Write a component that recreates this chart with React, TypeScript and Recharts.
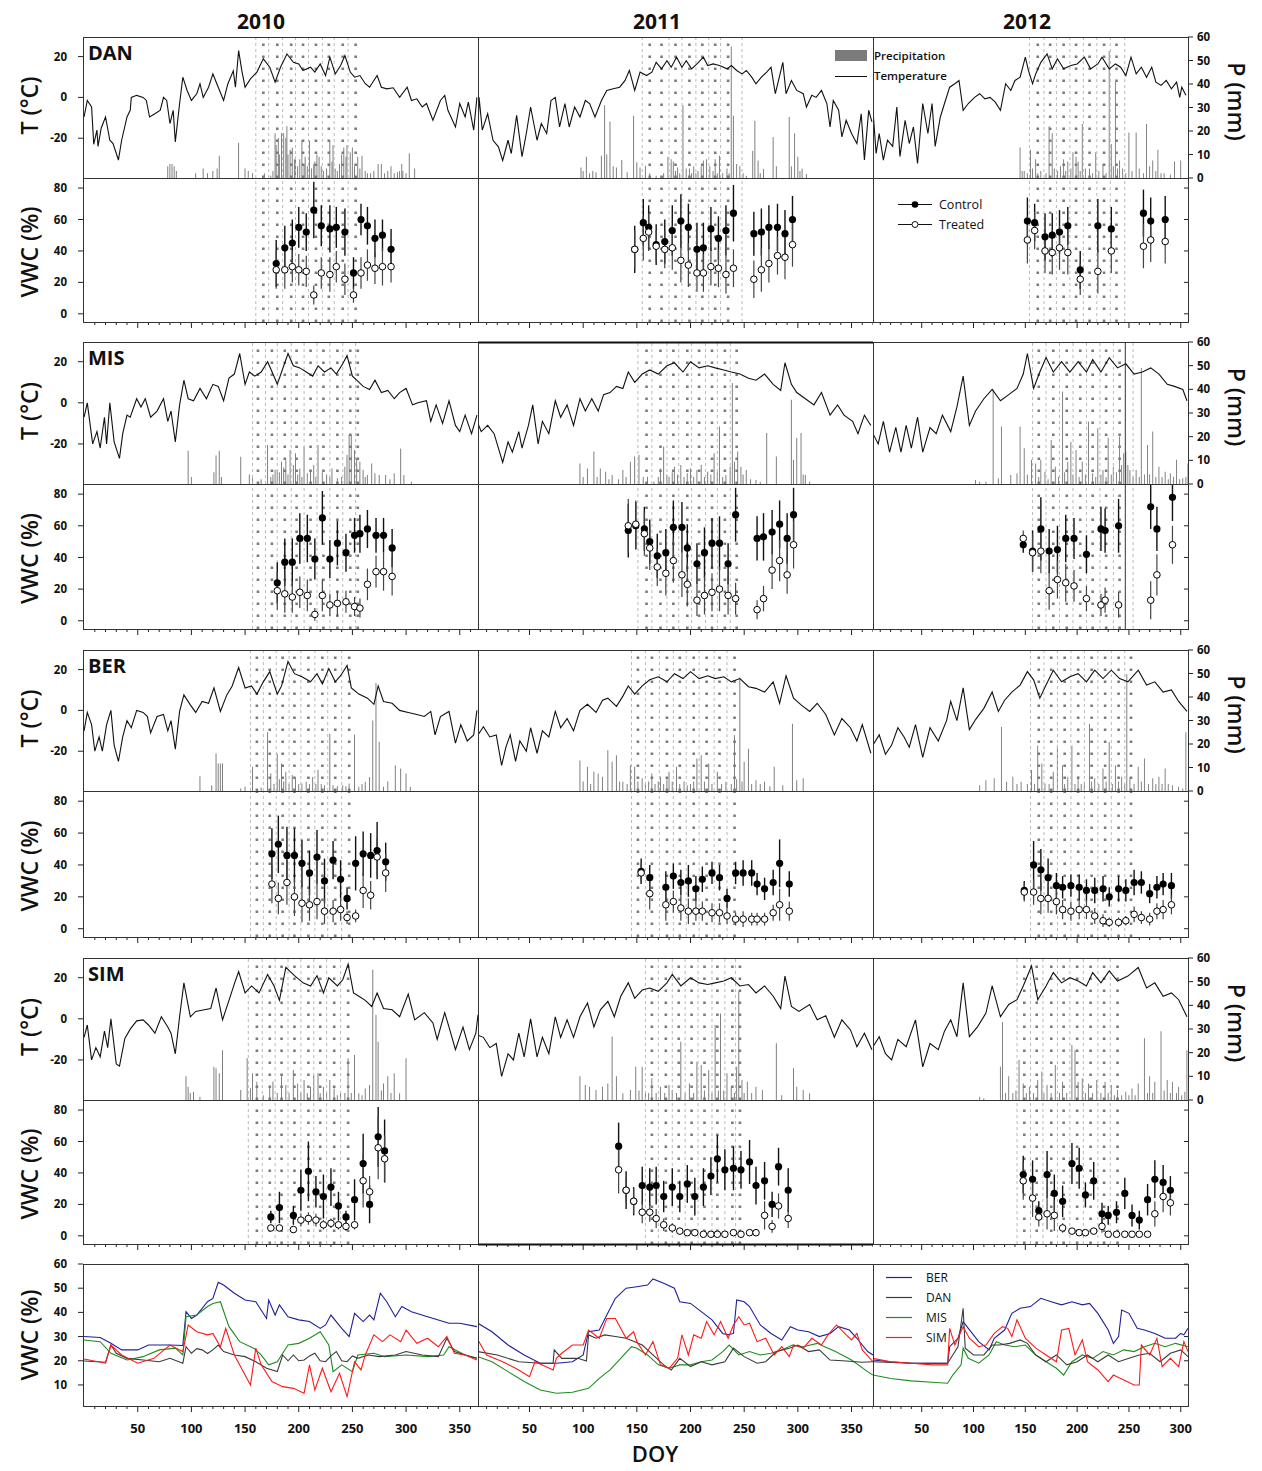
import React from "react";
import {
  ComposedChart,
  Line,
  Bar,
  Scatter,
  XAxis,
  YAxis,
  ReferenceLine,
  ErrorBar,
} from "recharts";

type Pair = [number, number];
// [day, control, controlErr, treated, treatedErr]
type Obs = [number, number, number, number, number];

const FONT = "'Open Sans', 'DejaVu Sans', sans-serif";

const years = ["2010", "2011", "2012"];
const sites = ["DAN", "MIS", "BER", "SIM"];
const bottomSites = ["BER", "DAN", "MIS", "SIM"];
const bottomColors = ["#1f1f9a", "#3a3a3a", "#1e8c1e", "#ff1a1a"];

// ---------- air temperature (day, °C) ----------
const danTemp2010: Pair[] = [[0,-9.6],[3,-1.5],[7,-4.7],[9,-23],[12,-16],[13,-24],[16,-15],[20,-9.6],[24,-21],[27,-22.6],[32,-30.7],[35,-21],[40,-9.6],[43,-6.3],[44,0],[49,1],[55,0],[58,-1.5],[61,-9.6],[66,-8],[71,-6.3],[74,0],[77,-1.5],[80,-12.8],[83,-6.3],[85,-21.8],[89,-3],[92,9.9],[96,3.4],[100,-1.5],[105,1.8],[108,6.7],[111,0],[116,5],[120,11.5],[125,5],[130,-1.5],[134,6.7],[139,13],[141,5],[144,22.9],[147,13],[150,5],[155,9.1],[161,12.4],[167,18.9],[173,14.8],[178,7.5],[183,14.8],[189,21.3],[195,17.2],[200,16.4],[204,13.2],[211,14.8],[215,12.4],[220,16.4],[225,10.7],[229,19.7],[234,11.5],[239,15.6],[243,20.5],[248,12.4],[252,9.9],[257,10.7],[262,6.7],[266,5],[273,10.7],[277,5],[282,4.2],[288,4.7],[294,0],[301,5],[305,-1.5],[310,-0.7],[315,-4.7],[319,-3],[325,-11.2],[332,-1.5],[336,1],[339,-6.3],[346,-14.5],[350,-3],[355,-9.6],[358,-2.3],[363,-16],[366,0]];
const danTemp2011: Pair[] = [[2,-16],[3,0],[6,-16],[11,-8],[16,-21],[21,-24.2],[25,-30.9],[30,-21],[33,-27.5],[38,-8.8],[43,-29],[47,-17.7],[51,-4.7],[57,-21],[61,-12.8],[66,-17.7],[70,-1.5],[74,0],[78,-14.5],[83,-3],[87,-14.5],[92,-4.7],[97,-9.6],[102,-1.5],[106,-3],[111,-9.6],[117,-1.5],[122,3.4],[128,4.2],[134,5],[139,8.3],[143,13.2],[148,3.4],[153,12.4],[159,10.7],[164,12.4],[168,17.2],[173,14],[178,18],[182,14.8],[187,19.7],[192,14.8],[196,18],[201,14],[206,16.4],[212,19.7],[216,15.6],[221,16.4],[227,15.6],[234,14],[238,15.6],[243,13.2],[248,11.5],[252,13.2],[257,9.9],[261,6.7],[266,9.9],[271,12.4],[275,14.8],[279,1.8],[282,8.3],[286,17.2],[289,1.8],[294,8.3],[299,3.4],[305,1.8],[308,-4.7],[313,1],[317,0],[322,3.4],[327,-3],[330,-14.5],[333,-1.5],[338,-6.3],[341,-19.4],[345,-11.2],[350,-17.7],[355,-22.6],[359,-8],[362,-30.7],[366,-6.3],[369,-12]];
const danTemp2012: Pair[] = [[3,-6.3],[6,-27.5],[9,-17.7],[13,-30.7],[17,-21],[22,-24],[26,-4.7],[29,-29],[34,-11.2],[38,-22.6],[42,-14.5],[46,-32.4],[51,-3],[56,-17.7],[60,-3],[63,-24],[68,-9.6],[72,-3],[77,5],[82,6.7],[86,8.3],[90,-6.3],[95,-3],[101,0],[106,1.8],[111,-0.7],[116,0],[121,-2.3],[126,-6.3],[131,6.7],[136,3.4],[140,8.3],[145,9.9],[150,19.7],[153,13.2],[157,6.7],[160,11.5],[165,17.2],[171,21.3],[176,14],[181,18.9],[187,14],[194,15.6],[200,16.4],[207,19.7],[213,14],[220,16.4],[224,19.7],[231,14],[237,16.4],[242,14.8],[247,10.7],[252,19.7],[257,11.5],[262,14.8],[267,9.9],[272,14.8],[276,7.5],[281,5.9],[286,8.3],[291,4.2],[296,7.5],[299,0],[301,5],[305,1]];
const misTemp2010: Pair[] = [[0,-7],[3,0],[8,-20],[12,-14],[15,-22],[19,-7],[21,-20],[24,0],[28,-19],[33,-27],[36,-15],[40,-6],[43,-7],[49,2],[53,-2],[57,2],[62,-7],[68,-4],[74,2],[78,-9],[81,-4],[85,-19],[89,-1],[93,11],[97,2],[102,1],[108,7],[114,2],[120,9],[125,8],[130,1],[135,12],[140,14],[145,24],[150,9],[154,15],[159,13],[165,15],[171,20],[176,14],[180,9],[184,15],[190,24],[195,18],[201,17],[207,15],[213,13],[218,18],[224,15],[230,17],[235,14],[241,19],[245,23],[250,13],[254,11],[260,8],[266,6.5],[271,11],[277,5],[283,6],[289,2],[294,5],[300,7],[306,-1],[311,0],[319,1],[323,-9],[328,-1],[334,-10],[340,1],[346,-11],[350,-14],[355,-6],[361,-15],[366,-6]];
const misTemp2011: Pair[] = [[2,-10],[5,-14],[11,-11],[17,-15],[21,-22],[25,-29],[30,-19],[34,-24],[40,-14],[43,-22],[49,-11],[53,-1],[58,-20],[62,-9],[68,-15],[74,1],[79,-7],[85,-1],[91,-11],[97,2],[102,-4],[108,2],[114,-4],[119,4],[125,5],[131,8],[137,7],[142,15],[148,10],[155,14],[162,16],[170,14],[178,18],[185,19.5],[193,15],[200,20],[208,17],[216,18],[223,17],[231,16],[238,15],[246,14],[254,12],[261,11],[269,14],[277,9],[284,6],[288,19.5],[294,9],[299,5],[307,2],[315,-1],[322,5],[330,-6],[337,-1],[343,-6],[351,-9],[356,-15],[362,-6],[368,-11]];
const misTemp2012: Pair[] = [[3,-15],[8,-20],[13,-9],[19,-24],[25,-12],[30,-24],[35,-11],[40,-22],[46,-7],[51,-24],[58,-12],[64,-15],[70,-6],[78,-14],[84,-2],[90,13],[96,-11],[102,-4],[110,2],[118,6.5],[126,1],[134,4],[142,7],[148,14],[152,24],[158,7],[164,15],[170,22],[177,15],[185,20],[193,15],[201,20],[209,15],[215,21],[223,15],[231,22],[239,17],[247,19],[255,14],[263,15],[271,17],[279,14],[287,9],[294,8],[302,6.5],[306,1]];
const berTemp2010: Pair[] = [[0,-10],[3,-1],[7,-7],[10,-20],[14,-13],[17,-20],[21,-7],[25,0],[28,-17],[32,-25],[36,-13],[40,-5],[44,-8.5],[49,0],[55,-1],[59,-3],[62,-11],[68,-3],[74,-2],[78,-10],[81,-5],[85,-19],[89,-0.5],[93,7.6],[99,2.7],[104,-1],[110,4.4],[116,3.5],[121,11],[127,-0.5],[133,7.6],[138,12],[144,21],[150,11],[156,12],[161,8],[167,14],[173,19],[180,8],[184,12],[190,24],[196,18],[203,16.5],[211,14],[217,18],[222,13],[228,20.5],[234,14],[239,17],[245,22],[249,11],[256,8],[264,6],[270,3],[274,12],[279,4.4],[287,3.5],[294,0],[302,-1],[310,-2],[317,-3],[323,-0.5],[327,-12],[332,-3],[340,-0.5],[346,-16],[351,-7],[357,-15],[363,-12],[366,0]];
const berTemp2011: Pair[] = [[2,-12],[7,-8],[13,-13],[19,-12],[24,-27],[28,-18],[32,-12],[37,-25],[41,-15],[47,-20],[51,-8.5],[57,-21],[62,-10],[68,-13],[74,-0.5],[79,-8.5],[85,-4],[91,-10],[97,0],[104,3],[112,-1],[118,5],[123,6],[131,2],[137,7],[142,12],[148,8],[155,12],[162,15],[170,16.5],[178,14],[185,18],[193,15.6],[200,19],[208,15.6],[216,17],[223,15.6],[231,16.5],[238,14],[246,15.6],[254,11.6],[261,10.8],[269,9],[277,14],[283,3.5],[289,17],[296,6],[303,2.7],[311,-0.5],[318,3.5],[326,-2],[334,-12],[341,-4],[349,-8.5],[355,-15],[360,-7],[368,-21]];
const berTemp2012: Pair[] = [[3,-17],[9,-12],[15,-21.5],[21,-17],[27,-8.5],[33,-13],[38,-18],[44,-7],[51,-23],[58,-8.5],[66,-15],[74,-5],[78,4.4],[84,-5],[90,11],[96,-9.4],[102,-4.5],[110,1],[118,9],[124,-0.5],[130,5],[137,9],[145,12.4],[152,19],[158,15],[164,6],[170,12.4],[177,19.7],[185,14],[193,16.5],[201,18],[209,14],[217,19.7],[225,15.6],[233,19.7],[241,15.6],[249,14],[259,19.7],[267,12.4],[275,14],[283,9],[291,10],[298,4.4],[306,-0.5]];
const simTemp2010: Pair[] = [[0,-9],[3,-3],[7,-20],[11,-14],[15,-18.5],[19,-6],[22,-14],[25,0],[30,-22],[33,-23],[38,-9.5],[43,-5],[49,-1],[55,-0.5],[60,-3],[66,-7],[72,1],[78,-4],[81,-7],[85,-17],[89,1],[93,17.5],[99,1],[104,3.6],[112,4.4],[118,5],[123,15],[129,-0.5],[135,9],[140,17],[144,23],[150,12.6],[156,16],[163,12.6],[171,21.6],[177,16],[182,9],[188,25],[196,21],[204,17.5],[211,16],[217,21],[223,12.6],[228,20],[236,16],[241,19],[246,26.6],[251,12.6],[256,11],[262,9],[268,6],[273,12.6],[279,5],[287,4.4],[294,1],[302,12],[308,-0.5],[317,3],[325,-2],[329,-10],[336,3],[340,-4],[346,-15],[353,-4],[359,-15],[365,-7],[367,2]];
const simTemp2011: Pair[] = [[2,-8],[7,-9],[13,-14],[19,-12],[24,-28],[30,-17],[35,-20],[40,-7],[45,-18.5],[51,0],[57,-18.5],[62,-9],[68,-17],[74,1],[79,-9],[85,-0.5],[91,-9],[97,1],[104,7.7],[110,-4],[116,4.4],[123,8.5],[129,1],[135,11],[142,17.5],[148,10],[155,14],[162,15],[170,13.4],[178,17.5],[183,21.6],[191,16],[200,20],[208,17.5],[216,16.7],[223,17.5],[231,18.4],[238,20],[246,16],[254,16.7],[261,12.6],[269,16],[277,11],[284,5],[288,20.8],[294,6],[301,3.6],[311,7],[318,-0.5],[326,1.5],[334,-9],[341,-0.5],[349,-5.4],[355,-13.6],[362,-7],[369,-15]];
const simTemp2012: Pair[] = [[3,-13.6],[9,-8.7],[15,-17],[21,-20],[27,-10],[35,-13.6],[44,-0.5],[51,-23.4],[58,-12],[66,-15],[72,-6],[78,-0.5],[84,-8.7],[90,17.5],[96,-8.7],[104,-3.8],[112,2.8],[118,16],[126,1],[134,7],[142,9.3],[148,16],[156,25.7],[162,9.3],[170,16],[177,22.5],[185,17.5],[193,20],[201,18.4],[209,16],[215,22.5],[223,17.5],[231,23.3],[239,18.4],[249,20.8],[259,25],[267,15],[275,17.5],[283,11],[291,12.6],[298,9.3],[306,1]];

// ---------- precipitation (day, mm) ----------
const danRain2010: Pair[] = [[78,5],[80,6],[82,6],[84,5],[86,3],[104,2],[111,4],[115,2],[120,3],[124,4],[126,9.5],[144,15],[150,4],[153,3],[157,2],[168,2],[174,1],[176,3],[178,19],[179,14],[181,17],[182,10],[184,19],[186,19],[188,17],[189,22],[190,10],[192,12],[194,13],[196,8],[197,9],[199,5],[201,8],[203,16],[205,6],[206,9],[208,5],[210,16],[212,4],[214,6],[215,7],[217,10],[219,9],[221,5],[223,3],[226,4],[229,16],[231,7],[232,14],[234,4],[236,3],[238,6],[240,10],[242,13],[244,9],[245,14],[248,11],[250,13],[252,5],[255,9],[257,4],[259,9.5],[262,3],[264,2],[267,2],[270,3],[274,6],[277,6],[280,2],[283,3],[286,5],[289,2],[292,2.5],[294,3],[296,6],[297,3],[300,2],[303,10.5],[308,4]];
const danRain2011: Pair[] = [[98,4.5],[100,3],[103,9],[106,2],[109,3],[112,2.4],[117,9.5],[120,31],[122,10],[125,24],[128,5],[131,4.5],[136,7.7],[141,2.4],[147,26.5],[150,6.7],[153,4.5],[158,5.2],[162,2],[168,1],[175,2],[179,9],[182,8],[184,7],[186,3],[188,4.5],[190,2],[193,31],[196,4],[199,4],[201,2],[203,5],[205,2],[207,3],[210,5],[212,7.4],[215,8],[218,5],[221,3],[223,8],[225,2],[227,9.5],[230,2],[234,4],[236,2],[238,56],[240,26.5],[243,6],[246,5],[249,2],[252,1],[258,11.6],[260,24.4],[263,7.4],[265,2],[268,3.8],[277,17.3],[280,5],[292,26],[294,5],[297,19],[300,9],[302,3],[304,4],[308,1.7]];
const danRain2012: Pair[] = [[145,13],[147,3],[149,3],[152,2],[155,12],[157,4],[160,8],[162,2],[165,3],[170,2],[173,22],[176,19],[178,4],[181,3],[184,5],[187,8],[189,3],[191,7],[194,4],[196,11],[199,9],[201,7],[203,3],[205,23],[208,4],[212,4],[215,2],[218,11],[221,3],[225,6],[228,2],[231,54],[233,14.5],[235,5],[237,41],[239,4],[241,7.4],[244,4],[247,2],[250,19.4],[253,3],[257,19.4],[260,4],[264,2],[267,23],[270,5],[273,7.4],[276,3],[278,12],[281,2],[284,2],[290,1.5],[294,7],[300,7.4]];
const misRain2010: Pair[] = [[97,14],[100,3],[121,5],[123,12],[126,14],[128,3],[146,11.5],[154,4],[157,2.4],[165,2],[171,16.5],[174,3],[176,4],[178,6],[180,6],[182,5],[184,9.4],[186,7],[188,10],[190,4],[192,14.4],[195,8],[197,13],[199,4],[201,6.6],[203,3],[205,15.8],[208,4.5],[211,6],[214,8],[216,3],[218,16.5],[222,5],[226,4],[229,3],[231,6.6],[236,2.4],[240,3],[243,7.3],[245,12.3],[247,20.7],[249,20.7],[252,14.4],[254,10.8],[257,9.4],[260,6],[262,3],[264,3.8],[268,8.7],[271,4.5],[275,3.8],[281,3.8],[285,2],[289,4.5],[295,15],[298,3.8],[305,1]];
const misRain2011: Pair[] = [[97,8.7],[100,3],[104,6.6],[110,13.7],[113,3],[116,6.6],[121,5.2],[124,2],[127,3.8],[133,2],[137,5.9],[140,3],[144,9.4],[148,11.6],[152,12.3],[156,3],[160,3.1],[166,1],[170,3],[172,6.6],[175,15.8],[178,4],[180,3.1],[183,5],[185,7.3],[188,4],[191,8],[194,3],[197,4.5],[200,6.6],[203,3],[206,5.9],[210,8],[213,3],[216,5.2],[219,4],[222,13],[225,5],[227,24.3],[230,3],[233,3.8],[237,7.3],[239,42.7],[241,9.4],[244,13.7],[247,7.3],[249,4],[252,5.9],[256,2],[261,1.7],[265,1],[271,21.5],[280,11.6],[294,35.6],[296,10.2],[299,19.4],[303,21.5],[305,4],[307,3.8],[311,1]];
const misRain2012: Pair[] = [[102,1.7],[106,1],[112,1],[119,39.8],[124,2.4],[127,24.3],[136,3.8],[142,4.5],[145,24.3],[149,15.1],[152,4],[156,10.2],[160,8.7],[163,3],[165,10.2],[169,5.2],[172,2],[175,18.6],[179,7.3],[182,3],[186,39.1],[188,5],[191,9.4],[194,17.9],[196,4],[199,14.4],[202,3],[205,9.4],[208,4],[211,26.4],[215,4.5],[218,3],[220,23.6],[223,4],[225,5.9],[228,3],[230,19.4],[233,4],[235,7.3],[238,5],[241,20.1],[243,8],[245,13],[247,13.7],[249,8],[251,5.9],[254,3],[257,5.9],[260,3],[262,49],[265,4],[268,16.5],[270,4],[273,22.2],[276,3],[279,7.3],[282,3],[285,5.2],[288,2],[290,4.5],[293,3],[296,10.2],[299,2],[302,2.4],[305,3],[307,8.7]];
const berRain2010: Pair[] = [[108,6.3],[119,2.5],[123,16],[125,11.7],[127,11.7],[129,11.7],[146,1.1],[150,1.8],[157,10.3],[165,1.5],[171,25],[174,7.5],[177,3],[180,16],[182,5],[184,11.7],[186,4],[188,8.2],[191,3],[194,6.8],[197,5.4],[200,3],[203,3.2],[207,3.9],[210,3],[213,6],[216,3],[218,9],[221,3],[224,2.5],[229,24.4],[232,2.5],[236,2],[241,2.5],[244,2],[247,3.2],[252,24],[256,1.8],[259,3],[262,3.9],[266,6],[269,30],[272,46],[275,21],[279,1.8],[283,4],[290,11],[295,9.6],[300,7.5],[304,1.8]];
const berRain2011: Pair[] = [[97,13],[100,4],[104,10.3],[107,3],[110,8.2],[114,7.5],[118,6.1],[123,17.3],[127,12.4],[131,15.2],[134,4],[137,3.9],[141,3],[144,11],[148,10.3],[151,4],[155,5.4],[158,3],[161,4],[164,7.5],[167,3],[170,4],[172,6.1],[175,3],[178,5],[180,8.2],[183,4],[187,10.3],[190,3],[194,4],[197,2.5],[200,3],[203,4],[206,13.8],[210,15.2],[213,4],[217,11.7],[220,3],[225,8.2],[229,3],[233,3.9],[238,3],[241,23.7],[243,5],[246,48.3],[248,4],[250,12.4],[254,18],[257,3],[261,4.6],[265,3],[269,3.9],[274,2],[278,10.3],[286,2.5],[295,28.6],[299,4.6],[305,5.4]];
const berRain2012: Pair[] = [[106,2.5],[112,4.6],[120,5.4],[127,27.2],[132,3.9],[138,6.1],[142,3],[146,3.9],[152,3],[156,8.9],[159,3],[162,19.4],[166,11.7],[169,3.2],[173,3],[177,8.2],[181,19.4],[186,11],[188,3],[191,6.1],[195,19.4],[198,3],[201,6.1],[204,3],[207,3.9],[212,28.6],[214,4],[217,5.4],[221,3],[225,9.6],[228,4],[231,20.8],[234,3],[237,11],[240,4],[243,6.1],[246,3],[248,49.7],[251,5.4],[255,3],[259,10.3],[262,4],[265,13.8],[269,3],[273,5.4],[276,3],[279,6.1],[282,3],[285,9.6],[288,3],[292,2.5],[298,1.8],[302,1.1],[305,25]];
const simRain2010: Pair[] = [[95,10],[97,5.6],[99,3],[102,3.5],[108,1.4],[121,14],[123,13.4],[126,11.3],[129,21],[146,4.2],[152,17.6],[155,5],[157,11.3],[161,7.7],[167,2],[173,5.6],[176,7.7],[180,3],[184,10],[188,6.3],[191,3],[195,12.7],[199,7],[202,3],[205,8.5],[208,3],[211,5.6],[214,10.6],[218,11.3],[220,3],[223,5.6],[226,3],[229,8.5],[233,4.9],[236,2],[239,2.8],[243,3],[246,17.6],[249,3],[252,19],[256,2.8],[259,2],[262,4.9],[266,6.3],[269,55],[272,36],[274,24.6],[277,4],[279,7],[283,10],[286,3],[289,11.3],[294,2.8],[300,17.6]];
const simRain2011: Pair[] = [[97,10],[102,6.3],[106,5.6],[112,4.2],[118,5.6],[123,7],[127,26.8],[131,10],[137,2.8],[144,4.2],[149,14],[152,4],[155,14],[158,3],[161,3],[164,9.2],[168,3],[172,5.6],[176,3],[180,6.3],[183,4.2],[187,3],[191,24.6],[195,3],[199,7],[203,3],[206,16.2],[210,14.8],[213,4],[217,12.7],[220,3],[223,31.7],[226,4],[228,36.6],[231,4],[234,11.3],[238,5.6],[241,3],[243,14.1],[245,45.8],[248,8.5],[250,3],[253,7.7],[257,3],[261,5.6],[267,4.2],[280,24],[285,2],[296,13.4],[299,5.6],[305,4.2],[311,2.8]];
const simRain2012: Pair[] = [[106,1.4],[110,0.7],[126,14],[128,33],[131,3],[134,10],[138,3],[141,4],[144,17],[148,7],[151,3],[154,5.6],[158,3],[162,8.5],[166,12],[168,3],[171,6.3],[175,3],[179,14.8],[183,3],[186,7.7],[190,3],[195,23.2],[198,21],[201,7.7],[205,9.2],[208,3],[211,7],[215,3],[219,8.5],[223,3],[227,7.7],[230,3],[233,6.3],[236,2],[239,4.2],[243,2],[247,3.5],[250,2],[253,4.9],[256,2],[259,7],[265,26.1],[268,3],[270,10],[273,3],[275,7.7],[281,29],[284,4],[287,8.5],[290,3],[292,7.7],[296,3],[298,5.6],[301,2],[304,3.5],[306,21]];

// ---------- soil water content samples ----------
const danVwc2010: Obs[] = [[179,32,15,28,12],[187,42,14,28,12],[194,45,15,30,10],[200,55,13,28,10],[207,52,12,27,10],[214,66,18,12,6],[221,56,13,26,10],[229,54,15,25,11],[235,55,13,30,10],[243,52,15,22,10],[251,26,10,12,5],[258,60,10,26,10],[264,56,12,31,10],[271,48,12,29,10],[278,50,10,30,12],[286,41,13,30,10]];
const danVwc2011: Obs[] = [[148,41,15,41,12],[156,58,15,48,14],[161,55,14,52,12],[168,44,13,43,10],[176,46,14,41,12],[183,53,16,42,14],[191,59,17,34,14],[198,55,15,31,14],[206,41,17,26,12],[212,42,16,26,12],[219,54,14,30,12],[226,48,14,29,12],[233,53,16,25,12],[240,64,18,29,12],[259,51,14,22,12],[266,52,15,28,14],[273,55,14,32,12],[281,55,15,37,12],[288,51,15,36,14],[295,60,15,44,14]];
const danVwc2012: Obs[] = [[152,59,15,47,15],[159,58,12,53,12],[169,49,15,40,14],[176,50,14,39,14],[183,52,14,42,14],[191,56,12,39,14],[203,28,12,22,10],[220,56,17,27,14],[233,54,14,40,14],[264,64,15,43,14],[271,59,15,47,14],[285,60,15,46,14]];
const misVwc2010: Obs[] = [[180,24,13,19,12],[187,37,15,17,12],[194,37,15,15,10],[201,52,16,18,10],[208,52,15,16,10],[215,39,13,4,4],[222,65,17,16,10],[229,39,12,10,7],[236,49,14,11,8],[244,43,12,12,7],[252,54,11,9,6],[257,55,12,8,6],[264,58,12,23,10],[272,54,11,31,10],[279,54,11,31,12],[287,46,12,28,12]];
const misVwc2011: Obs[] = [[142,57,17,60,17],[149,60,15,61,15],[157,58,14,55,14],[162,50,14,46,14],[169,41,14,34,12],[177,43,15,30,14],[184,59,17,38,14],[192,59,16,29,14],[197,46,15,23,14],[206,36,13,13,10],[213,43,16,16,12],[220,49,16,18,12],[227,49,17,20,14],[235,36,13,16,12],[242,67,17,14,10],[262,52,14,7,6],[268,53,15,14,8],[276,56,14,32,12],[283,61,15,38,13],[290,52,16,29,12],[296,67,17,48,15]];
const misVwc2012: Obs[] = [[148,48,5,52,5],[157,44,13,43,12],[165,58,20,44,14],[173,44,14,19,12],[181,45,15,26,12],[189,52,15,24,12],[197,52,13,22,10],[209,42,12,14,8],[223,58,14,10,7],[227,57,14,13,8],[240,60,17,10,8],[271,72,14,13,12],[277,58,14,29,13],[292,78,15,48,12]];
const berVwc2010: Obs[] = [[175,47,16,28,12],[181,53,18,19,10],[189,46,18,29,14],[196,46,17,20,12],[203,41,15,16,12],[210,35,14,15,10],[217,45,17,17,11],[224,30,14,11,8],[232,43,12,11,7],[239,31,12,12,7],[245,19,7,7,4],[253,41,17,8,4],[260,47,14,24,11],[267,46,14,21,9],[273,49,18,45,12],[281,42,12,35,12]];
const berVwc2011: Obs[] = [[154,36,8,35,6],[162,32,8,22,10],[177,26,10,15,10],[184,33,8,17,7],[191,29,8,13,8],[198,30,10,11,8],[205,25,8,11,6],[211,31,8,11,6],[220,35,7,10,6],[227,32,8,10,6],[234,19,6,8,5],[242,35,7,6,4],[249,35,8,6,5],[257,35,8,6,4],[262,28,7,6,4],[269,25,7,6,4],[277,29,8,10,5],[283,41,15,15,10],[292,28,8,11,6]];
const berVwc2012: Obs[] = [[149,24,6,23,6],[158,40,15,23,8],[165,37,13,19,10],[172,32,12,19,9],[180,27,8,17,8],[186,26,7,12,6],[194,27,7,11,6],[202,26,8,12,6],[209,24,7,12,6],[217,24,8,8,5],[225,25,8,5,4],[231,20,6,4,3],[240,25,8,4,3],[247,24,7,5,3],[255,29,8,9,5],[262,29,7,7,4],[270,22,6,6,4],[277,26,7,11,5],[283,28,7,12,6],[291,27,8,15,6]];
const simVwc2010: Obs[] = [[174,12,4,5,2],[182,18,10,5,2],[195,13,6,4,2],[202,29,13,10,4],[209,41,19,11,4],[216,28,10,10,4],[223,25,14,7,3],[230,31,12,8,3],[237,19,9,7,3],[244,12,4,6,3],[252,23,13,7,3],[260,46,19,35,17],[266,20,12,28,10],[274,63,19,56,20],[280,54,20,49,15]];
const simVwc2011: Obs[] = [[133,57,15,42,15],[140,29,12,29,8],[147,22,9,22,8],[155,32,12,15,7],[162,31,12,15,6],[168,32,12,11,6],[175,25,10,7,4],[183,31,12,5,3],[190,25,10,3,2],[197,33,12,2,1],[204,25,12,2,1],[212,31,12,1,1],[219,38,12,1,1],[225,49,15,1,1],[232,42,13,1,1],[240,43,14,2,1],[247,42,12,1,1],[255,47,14,2,1],[261,32,12,2,1],[269,35,12,13,9],[276,20,8,6,4],[282,44,12,19,8],[291,29,14,11,6]];
const simVwc2012: Obs[] = [[148,39,12,35,12],[157,36,12,24,12],[163,16,6,12,6],[171,39,15,14,10],[178,27,12,13,10],[186,22,10,5,3],[195,46,13,3,2],[202,43,13,2,1],[208,26,8,2,1],[216,35,12,3,2],[224,14,7,6,4],[230,13,6,1,1],[238,15,7,1,1],[246,27,10,1,1],[253,13,7,1,1],[260,10,6,1,1],[268,23,10,1,1],[275,36,12,14,8],[283,34,11,25,10],[290,29,9,21,8]];

// ---------- sampling dates (dotted) and treatment dates (dashed) ----------
const danDots = [[167,180,193,204,216,228,241,253],[162,173,186,199,211,223,235],[162,174,187,199,212,226,238]];
const danDash = [[160,172,185,197,209,222,233,246],[155,180,192,205,217,228,248],[154,168,180,193,206,219,232,246]];
const misDots = [[162,175,187,198,211,223,236,248,255],[159,172,184,197,208,220,232,243],[163,177,190,203,215,228,241]];
const misDash = [[157,169,180,193,205,217,229,241,253],[151,164,178,189,201,214,225,237],[157,170,183,196,209,222,235,254]];
const berDots = [[161,173,185,196,209,222,234,247],[151,164,178,190,203,215,227,241],[163,175,188,201,214,227,240,252]];
const berDash = [[155,167,179,191,202,215,227,240],[145,158,171,184,196,208,222,234],[155,168,181,194,207,220,233,246]];
const simDots = [[161,173,184,196,209,220,233,246],[164,177,189,201,213,225,239,246],[149,161,175,187,200,213,226,239]];
const simDash = [[153,166,178,190,202,214,226,239],[158,170,183,195,207,220,232,242],[142,155,167,181,193,206,220,232]];
const misSolid2012 = 246.5;

// ---------- continuous soil water content by site (day, %) ----------
const berLine2010: Pair[] = [[0,30],[15,29.6],[25,27.2],[35,24.5],[50,24.5],[60,26.5],[80,26.5],[92,26.3],[95,40.3],[100,37.5],[105,38.9],[115,44.4],[120,45.8],[125,52.4],[130,51.3],[140,47.9],[150,45.1],[160,44.4],[170,37.5],[172,45.1],[178,38.9],[182,43.1],[190,38.2],[200,36.9],[210,36.2],[220,33.4],[225,34.8],[230,38.9],[240,33.4],[247,30],[252,39.6],[260,36.2],[266,38.9],[270,36.9],[276,47.9],[282,44.4],[290,38.2],[296,42.4],[305,40.3],[320,38.2],[340,35.5],[350,35.5],[366,34.1]];
const danLine2010: Pair[] = [[0,19.9],[20,19.4],[25,26.5],[30,23.1],[40,21],[55,20.3],[70,19.6],[80,21],[92,19],[95,25.8],[100,23.1],[105,25],[110,24.5],[115,23],[120,24.5],[125,26.5],[130,23.8],[140,22.4],[150,21.7],[160,19.6],[170,16.9],[180,15.5],[185,22.4],[190,20],[195,22.4],[200,20],[205,20.3],[210,22],[215,23.1],[220,20],[225,19.6],[230,22],[235,23.8],[240,20],[245,19.6],[250,22],[255,21],[265,22.4],[275,21.7],[290,22.4],[300,23.8],[315,22.4],[330,21.7],[338,29.3],[345,23.8],[355,22.4],[366,21]];
const misLine2010: Pair[] = [[0,28.6],[15,27.9],[25,23.1],[40,20.3],[55,21.7],[70,24.5],[85,25.2],[92,22.4],[95,38.2],[105,38.9],[115,42.4],[120,43.7],[127,44.4],[135,34.1],[145,27.9],[158,25.2],[165,22.4],[172,18.3],[180,19.6],[190,26.5],[200,27.2],[210,29.3],[220,32],[228,26.5],[232,15.5],[240,18.3],[250,15.5],[255,22.4],[270,23.1],[280,21.7],[300,22.4],[320,21.7],[335,22.4],[340,25.8],[355,22.4],[366,21]];
const simLine2010: Pair[] = [[0,20.7],[20,19],[25,26.5],[35,22.4],[50,19],[65,21],[80,26.5],[92,23.8],[97,34.8],[105,32],[115,30.7],[120,31.3],[127,25.8],[132,33.4],[140,22.4],[150,14.1],[155,10],[160,25.2],[165,18.3],[175,11.4],[185,9.3],[195,8.6],[205,6.6],[210,18.3],[215,7.9],[222,16.9],[230,7.2],[238,14.8],[245,5.2],[252,19.6],[258,16.2],[262,22.4],[270,30.7],[278,27.9],[285,30.7],[295,27.9],[300,32.7],[310,27.2],[320,29.3],[330,25.8],[338,30],[345,23.1],[355,22.4],[366,20.3]];
const berLine2011: Pair[] = [[2,35.5],[15,32],[30,26.5],[45,22.4],[60,19],[75,19],[90,19.6],[100,22.4],[105,32],[115,32.7],[122,38.9],[130,45.8],[140,50],[150,50.6],[160,51.3],[165,53.8],[175,52],[185,50],[190,44.4],[200,43.7],[210,40.3],[220,36.9],[230,31.3],[235,30.7],[240,31.3],[243,45.1],[250,44.4],[255,42.4],[265,34.8],[275,31.3],[285,28.6],[293,34.1],[300,32.7],[310,32],[320,30],[330,31.3],[338,34.1],[348,32.7],[355,29.3],[365,23.8],[370,22.4]];
const danLine2011: Pair[] = [[2,23.8],[20,22.4],[40,19.6],[60,19],[72,19],[73,24.5],[80,21],[95,21],[103,19.9],[105,30.7],[112,29.3],[120,30.7],[130,30],[140,29.3],[148,27.9],[155,26.5],[165,22.4],[175,18.3],[182,16.2],[190,21],[200,17.6],[210,19.6],[220,18.3],[232,19.6],[240,25.2],[250,21.7],[262,19],[270,19.6],[280,23.8],[292,25.2],[300,26.5],[310,23.8],[320,24.5],[330,20.3],[345,19.9],[360,19.4],[370,19.6]];
const misLine2011: Pair[] = [[2,21.7],[15,19.6],[30,15.5],[45,11.4],[60,7.9],[75,6.6],[90,7],[105,8.6],[115,12.7],[125,16.2],[135,21],[145,25.8],[150,25.2],[160,22.4],[170,18.3],[180,16.9],[190,18.3],[200,18.3],[210,19.6],[220,20.3],[230,23.8],[236,26.5],[245,22.4],[255,23.8],[265,22.4],[275,23.1],[285,24.5],[295,26.5],[305,25.8],[318,27.2],[325,25.8],[335,23.8],[350,20.3],[365,15.5],[370,14.1]];
const simLine2011: Pair[] = [[2,28.6],[10,22.4],[25,19.6],[40,16.2],[50,13.4],[55,19.6],[65,17.6],[72,16.2],[75,21],[80,23.1],[90,26.5],[100,26.5],[105,32.7],[115,29.3],[122,37.5],[130,37.5],[140,29.3],[147,32],[150,27.9],[158,22.4],[165,27.9],[172,18.3],[180,16.9],[188,21],[192,30.7],[198,22.4],[203,30.7],[210,29.3],[215,36.2],[222,30.7],[228,36.2],[235,29.3],[240,34.8],[245,38.2],[250,34.8],[255,35.5],[262,27.9],[270,29.3],[278,22.4],[285,25.8],[292,21.7],[296,26.5],[305,25.2],[313,29.3],[322,26.5],[328,30.7],[336,34.8],[345,30.7],[350,28.6],[355,31.3],[360,24.5],[370,19.6]];
const berLine2012: Pair[] = [[3,20.3],[20,19.6],[40,19],[60,19],[75,19],[77,25.8],[85,29.3],[90,36.2],[95,33.4],[105,27.9],[115,24.5],[120,29.3],[130,32.7],[137,39.6],[145,41.7],[155,42.4],[165,45.8],[175,44.4],[185,43.1],[195,44.4],[205,43.1],[212,43.7],[220,39.6],[230,32.7],[235,27.2],[240,30],[243,41],[250,39.6],[258,33.4],[265,32.7],[275,31.3],[285,29.3],[295,29.3],[300,31.3],[303,30.7],[307,33.4]];
const danLine2012: Pair[] = [[3,19.6],[40,19],[75,19],[80,22.4],[85,25.8],[90,41.7],[92,25.2],[100,22.4],[110,22.4],[118,26.5],[125,26.5],[135,27.2],[145,28.6],[152,27.2],[160,22.4],[170,19.6],[180,22.4],[190,18.3],[200,19.6],[210,22.4],[220,19.6],[230,22.4],[240,19.6],[250,21],[260,22.4],[270,23.1],[280,19.6],[290,23.1],[300,24.5],[307,21.7]];
const misLine2012: Pair[] = [[3,14.1],[20,12.7],[40,11.7],[60,11.1],[75,10.7],[80,14.1],[88,18.3],[90,25.2],[95,21],[105,19],[115,22.4],[122,27.9],[130,26.5],[140,25.8],[150,26.5],[160,22.4],[170,19.6],[180,16.9],[187,14.1],[195,19.6],[205,22.4],[215,21],[225,23.8],[235,22.4],[245,24.5],[255,23.8],[265,25.8],[275,27.2],[285,25.8],[295,27.2],[307,25.8]];
const simLine2012: Pair[] = [[3,21],[20,19.6],[40,19],[60,18.3],[75,18.3],[77,33.4],[82,26.5],[90,34.1],[96,29.3],[105,25.8],[112,26.5],[120,31.3],[128,34.1],[133,33.4],[137,30],[142,36.9],[150,29.3],[160,25.2],[170,22.4],[180,19.6],[185,32.7],[192,33.4],[198,22.4],[205,28.6],[210,19.6],[220,16.2],[230,11.4],[235,14.1],[245,12],[255,10],[260,10],[262,26.5],[270,22.4],[277,29.3],[282,17.6],[290,21],[298,17.6],[303,27.9],[307,23.8]];

// ---------- layout ----------
const COL_X = [83, 478, 873];
const COL_W = [395, 395, 315];
const COL_DOM: [number, number][] = [[-1, 367], [2, 370], [3, 307]];
const ROWS = [
  { top: 37, mid: 178, bot: 322 },
  { top: 342, mid: 484, bot: 629 },
  { top: 650, mid: 791, bot: 937 },
  { top: 958, mid: 1100, bot: 1244 },
];
const BOT = { top: 1264, bot: 1406 };
const AXW = 44;
const PAD = 9;
const T_DOM: [number, number] = [-39.5, 29.6];
const V_DOM: [number, number] = [-5.2, 86.4];
const L_DOM: [number, number] = [1.3, 60];
const TICK = { fontSize: 11.5, fontWeight: 700, fill: "#111", fontFamily: FONT };

const tempTable: Record<string, Pair[][]> = {
  DAN: [danTemp2010, danTemp2011, danTemp2012],
  MIS: [misTemp2010, misTemp2011, misTemp2012],
  BER: [berTemp2010, berTemp2011, berTemp2012],
  SIM: [simTemp2010, simTemp2011, simTemp2012],
};
const rainTable: Record<string, Pair[][]> = {
  DAN: [danRain2010, danRain2011, danRain2012],
  MIS: [misRain2010, misRain2011, misRain2012],
  BER: [berRain2010, berRain2011, berRain2012],
  SIM: [simRain2010, simRain2011, simRain2012],
};
const vwcTable: Record<string, Obs[][]> = {
  DAN: [danVwc2010, danVwc2011, danVwc2012],
  MIS: [misVwc2010, misVwc2011, misVwc2012],
  BER: [berVwc2010, berVwc2011, berVwc2012],
  SIM: [simVwc2010, simVwc2011, simVwc2012],
};
const dotTable: Record<string, number[][]> = { DAN: danDots, MIS: misDots, BER: berDots, SIM: simDots };
const dashTable: Record<string, number[][]> = { DAN: danDash, MIS: misDash, BER: berDash, SIM: simDash };
const lineTable: Pair[][][] = [
  [berLine2010, berLine2011, berLine2012],
  [danLine2010, danLine2011, danLine2012],
  [misLine2010, misLine2011, misLine2012],
  [simLine2010, simLine2011, simLine2012],
];

const pairsTo = (p: Pair[], key: string) => p.map(([d, v]) => ({ d, [key]: v }));
const obsTo = (o: Obs[]) => o.map(([d, c, ce, t, te]) => ({ d, c, ce, t, te }));
const dayTicks = (col: number) => {
  const out: number[] = [];
  for (let v = Math.ceil(COL_DOM[col][0] / 10) * 10; v <= COL_DOM[col][1]; v += 10) if (v > 0) out.push(v);
  return out;
};

function DownTick(props: any) {
  const { x, y, payload } = props;
  const len = payload.value % 50 === 0 ? 6 : 3;
  return <line x1={x} x2={x} y1={y} y2={y + len} stroke="#222" />;
}

function DayTick(props: any) {
  const { x, y, payload } = props;
  const v = payload.value;
  const major = v % 50 === 0;
  return (
    <g>
      <line x1={x} x2={x} y1={y} y2={y + (major ? 6 : 3)} stroke="#222" />
      {major && (
        <text x={x} y={y + 27} textAnchor="middle" fontSize={13} fontWeight={700} fill="#111" fontFamily={FONT}>
          {v}
        </text>
      )}
    </g>
  );
}

function InTick(props: any) {
  const { x, y } = props;
  return <line x1={x - 4} x2={x} y1={y} y2={y} stroke="#222" />;
}

const FilledDot = (p: any) => <circle cx={p.cx} cy={p.cy} r={3.6} fill="#000" />;
const OpenDot = (p: any) => <circle cx={p.cx} cy={p.cy} r={3.3} fill="#fff" stroke="#000" strokeWidth={1} />;

const zero = { top: 0, right: 0, bottom: 0, left: 0 };
const padded = { top: PAD, right: 0, bottom: PAD, left: 0 };

function marks(dots: number[], dashes: number[], xId: string | number, yId: string, solid?: number) {
  return [
    ...dashes.map((d) => (
      <ReferenceLine key={"l" + d} x={d} xAxisId={xId} yAxisId={yId} stroke="#b9b9b9" strokeDasharray="3 3" />
    )),
    ...dots.map((d) => (
      <ReferenceLine key={"b" + d} x={d} xAxisId={xId} yAxisId={yId} stroke="#7a7a7a" strokeWidth={2.6} strokeDasharray="2.6 9.4" />
    )),
    ...(solid ? [<ReferenceLine key="s" x={solid} xAxisId={xId} yAxisId={yId} stroke="#333" />] : []),
  ];
}

function TempPanel({ site, col, top, h }: { site: string; col: number; top: number; h: number }) {
  const left = col === 0 ? AXW : 0;
  const right = col === 2 ? AXW : 0;
  const solid = site === "MIS" && col === 2 ? misSolid2012 : undefined;
  return (
    <div style={{ position: "absolute", left: COL_X[col] - left, top: top - PAD }}>
      <ComposedChart width={COL_W[col] + left + right} height={h + 2 * PAD} data={pairsTo(rainTable[site][col], "p")} margin={padded}>
        <XAxis xAxisId="x" dataKey="d" type="number" domain={COL_DOM[col]} allowDataOverflow hide />
        <YAxis yAxisId="t" domain={T_DOM} allowDataOverflow hide={col !== 0} width={AXW} ticks={[-20, 0, 20]} interval={0}
          tickSize={5} tickMargin={11} tick={TICK} axisLine={false} tickLine={{ stroke: "#222" }} />
        <YAxis yAxisId="p" orientation="right" domain={[0, 60]} allowDataOverflow hide={col !== 2} width={AXW}
          ticks={[0, 10, 20, 30, 40, 50, 60]} interval={0} tickSize={5} tickMargin={4} tick={TICK} axisLine={false}
          tickLine={{ stroke: "#222" }} />
        {marks(dotTable[site][col], dashTable[site][col], "x", "t", solid)}
        <Bar xAxisId="x" yAxisId="p" dataKey="p" fill="#7b7b7b" barSize={2} isAnimationActive={false} />
        <Line xAxisId="x" yAxisId="t" data={pairsTo(tempTable[site][col], "t")} dataKey="t" stroke="#111"
          strokeWidth={1.1} dot={false} isAnimationActive={false} />
      </ComposedChart>
    </div>
  );
}

function VwcPanel({ site, col, top, h }: { site: string; col: number; top: number; h: number }) {
  const left = col === 0 ? AXW : 0;
  const right = col === 2 ? 8 : 0;
  const solid = site === "MIS" && col === 2 ? misSolid2012 : undefined;
  const ticks = dayTicks(col);
  return (
    <div style={{ position: "absolute", left: COL_X[col] - left, top }}>
      <ComposedChart width={COL_W[col] + left + right} height={h + 10} data={obsTo(vwcTable[site][col])} margin={zero}>
        <XAxis xAxisId="top" orientation="top" dataKey="d" type="number" domain={COL_DOM[col]} allowDataOverflow
          height={0} ticks={ticks} interval={0} tick={<DownTick />} tickLine={false} axisLine={false} tickSize={0} tickMargin={0} />
        <XAxis xAxisId="b" orientation="bottom" dataKey="d" type="number" domain={COL_DOM[col]} allowDataOverflow
          height={10} ticks={ticks} interval={0} tick={<DownTick />} tickLine={false} axisLine={false} tickSize={0} tickMargin={0} />
        <YAxis yAxisId="v" domain={V_DOM} allowDataOverflow hide={col !== 0} width={AXW} ticks={[0, 20, 40, 60, 80]}
          interval={0} tickSize={5} tickMargin={11} tick={TICK} axisLine={false} tickLine={{ stroke: "#222" }} />
        {col === 2 && (
          <YAxis yAxisId="r" orientation="right" domain={V_DOM} allowDataOverflow width={8} ticks={[0, 20, 40, 60, 80]}
            interval={0} tick={<InTick />} tickLine={false} axisLine={false} tickSize={0} tickMargin={0} />
        )}
        {marks(dotTable[site][col], dashTable[site][col], "b", "v", solid)}
        <Scatter xAxisId="b" yAxisId="v" dataKey="c" shape={FilledDot} isAnimationActive={false}>
          <ErrorBar dataKey="ce" direction="y" width={0} stroke="#111" strokeWidth={1.4} />
        </Scatter>
        <Scatter xAxisId="b" yAxisId="v" dataKey="t" shape={OpenDot} isAnimationActive={false}>
          <ErrorBar dataKey="te" direction="y" width={0} stroke="#444" strokeWidth={1.2} />
        </Scatter>
      </ComposedChart>
    </div>
  );
}

function SitePanel({ col }: { col: number }) {
  const left = col === 0 ? AXW : 0;
  const right = col === 2 ? 8 : 0;
  const order = [0, 2, 1, 3];
  return (
    <div style={{ position: "absolute", left: COL_X[col] - left, top: BOT.top - PAD }}>
      <ComposedChart width={COL_W[col] + left + right} height={BOT.bot - BOT.top + 34 + PAD} margin={{ ...zero, top: PAD }}>
        <XAxis xAxisId="x" dataKey="d" type="number" domain={COL_DOM[col]} allowDataOverflow height={34}
          ticks={dayTicks(col)} interval={0} tick={<DayTick />} tickLine={false} axisLine={false} tickSize={0} tickMargin={0} />
        <YAxis yAxisId="v" domain={L_DOM} allowDataOverflow hide={col !== 0} width={AXW} ticks={[10, 20, 30, 40, 50, 60]}
          interval={0} tickSize={5} tickMargin={11} tick={TICK} axisLine={false} tickLine={{ stroke: "#222" }} />
        {col === 2 && (
          <YAxis yAxisId="r" orientation="right" domain={L_DOM} allowDataOverflow width={8} ticks={[10, 20, 30, 40, 50, 60]}
            interval={0} tick={<InTick />} tickLine={false} axisLine={false} tickSize={0} tickMargin={0} />
        )}
        {order.map((i) => (
          <Line key={bottomSites[i]} xAxisId="x" yAxisId="v" data={pairsTo(lineTable[i][col], "v")} dataKey="v"
            stroke={bottomColors[i]} strokeWidth={1.1} dot={false} isAnimationActive={false} />
        ))}
      </ComposedChart>
    </div>
  );
}

function Overlay() {
  const s = "#333";
  const frames: React.ReactNode[] = [];
  ROWS.forEach((r, i) => {
    frames.push(<rect key={"f" + i} x={83.5} y={r.top + 0.5} width={1105} height={r.bot - r.top} fill="none" stroke={s} />);
    frames.push(<line key={"m" + i} x1={83} x2={1188} y1={r.mid + 0.5} y2={r.mid + 0.5} stroke={s} />);
    [478, 873].forEach((x) =>
      frames.push(<line key={"v" + i + x} x1={x + 0.5} x2={x + 0.5} y1={r.top} y2={r.bot} stroke={s} />)
    );
  });
  frames.push(<rect key="fb" x={83.5} y={BOT.top + 0.5} width={1105} height={BOT.bot - BOT.top} fill="none" stroke={s} />);
  [478, 873].forEach((x) =>
    frames.push(<line key={"vb" + x} x1={x + 0.5} x2={x + 0.5} y1={BOT.top} y2={BOT.bot} stroke={s} />)
  );
  frames.push(<line key="thick1" x1={478} x2={873} y1={342.5} y2={342.5} stroke="#111" strokeWidth={2.2} />);
  frames.push(<line key="thick2" x1={478} x2={873} y1={1244.5} y2={1244.5} stroke="#111" strokeWidth={2.2} />);

  const yearX = [261, 657, 1027];
  return (
    <svg width={1262} height={1471} style={{ position: "absolute", left: 0, top: 0, pointerEvents: "none" }} fontFamily={FONT}>
      {frames}
      {years.map((y, i) => (
        <text key={y} x={yearX[i]} y={29} textAnchor="middle" fontSize={21} fontWeight={700} fill="#111">
          {y}
        </text>
      ))}
      {sites.map((name, i) => {
        const r = ROWS[i];
        const tMid = (r.top + r.mid) / 2;
        const vMid = (r.mid + r.bot) / 2;
        return (
          <g key={name}>
            <text x={88} y={r.top + 23} fontSize={20} fontWeight={700} fill="#111">
              {name}
            </text>
            <text x={38} y={tMid - 2} transform={`rotate(-90 38 ${tMid - 2})`} textAnchor="middle" fontSize={23} fontWeight={600} fill="#111">
              T (°C)
            </text>
            <text x={38} y={vMid + 2} transform={`rotate(-90 38 ${vMid + 2})`} textAnchor="middle" fontSize={23} fontWeight={600} fill="#111">
              VWC (%)
            </text>
            <text x={1228} y={tMid - 6} transform={`rotate(90 1228 ${tMid - 6})`} textAnchor="middle" fontSize={23} fontWeight={600} fill="#111">
              P (mm)
            </text>
          </g>
        );
      })}
      <text x={38} y={1335} transform="rotate(-90 38 1335)" textAnchor="middle" fontSize={23} fontWeight={600} fill="#111">
        VWC (%)
      </text>
      <text x={655} y={1462} textAnchor="middle" fontSize={22} fontWeight={600} fill="#111">
        DOY
      </text>

      {/* precipitation / temperature legend */}
      <rect x={835} y={50} width={32} height={11} fill="#7b7b7b" />
      <text x={874} y={60} fontSize={11.5} fontWeight={600} fill="#111">Precipitation</text>
      <line x1={835} x2={867} y1={76.5} y2={76.5} stroke="#111" />
      <text x={874} y={80} fontSize={11.5} fontWeight={600} fill="#111">Temperature</text>

      {/* control / treated legend */}
      <line x1={898} x2={932} y1={204.5} y2={204.5} stroke="#111" />
      <circle cx={915} cy={204.5} r={3.3} fill="#000" />
      <text x={939} y={209} fontSize={12.5} fill="#111">Control</text>
      <line x1={898} x2={932} y1={224.5} y2={224.5} stroke="#111" />
      <circle cx={915} cy={224.5} r={3} fill="#fff" stroke="#111" />
      <text x={939} y={229} fontSize={12.5} fill="#111">Treated</text>

      {/* site legend */}
      {bottomSites.map((name, i) => (
        <g key={name}>
          <line x1={886} x2={912} y1={1277.5 + i * 20} y2={1277.5 + i * 20} stroke={bottomColors[i]} strokeWidth={1.2} />
          <text x={926} y={1282 + i * 20} fontSize={12} fill="#111">{name}</text>
        </g>
      ))}
    </svg>
  );
}

export default function App() {
  return (
    <div style={{ position: "absolute", left: 0, top: 0, width: 1262, height: 1471, background: "#fff", fontFamily: FONT }}>
      {sites.map((site, i) =>
        [0, 1, 2].map((col) => (
          <React.Fragment key={site + col}>
            <TempPanel site={site} col={col} top={ROWS[i].top} h={ROWS[i].mid - ROWS[i].top} />
            <VwcPanel site={site} col={col} top={ROWS[i].mid} h={ROWS[i].bot - ROWS[i].mid} />
          </React.Fragment>
        ))
      )}
      {[0, 1, 2].map((col) => (
        <SitePanel key={"s" + col} col={col} />
      ))}
      <Overlay />
    </div>
  );
}
